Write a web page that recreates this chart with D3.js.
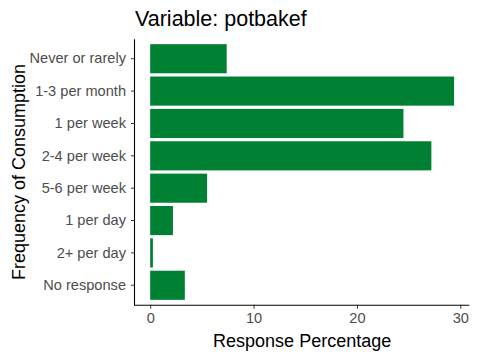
<!DOCTYPE html>
<html><head><meta charset="utf-8">
<script src="https://cdn.jsdelivr.net/npm/d3@7"></script>
<style>body{margin:0;background:#fff}svg{display:block}</style>
</head><body>
<svg id="c" width="480" height="360"></svg>
<script>
const categories = ["Never or rarely","1-3 per month","1 per week","2-4 per week","5-6 per week","1 per day","2+ per day","No response"];
const values = [7.4, 29.4, 24.5, 27.2, 5.5, 2.2, 0.26, 3.35];
const xTicks = [0, 10, 20, 30];
const titleText = "Variable: potbakef";
const xTitle = "Response Percentage";
const yTitle = "Frequency of Consumption";

(function(){
const svg = d3.select("#c");
const pLeft = 135, pRight = 469.3, pTop = 39.3, pBottom = 304.7;
const font = "'Liberation Sans', Arial, sans-serif";

const maxV = d3.max(values);
const ext = maxV * 0.05;
const x = d3.scaleLinear().domain([-ext, maxV + ext]).range([pLeft, pRight]);
const step = (pBottom - pTop) / (categories.length + 0.2);
const y = d3.scaleBand().domain(categories)
  .range([pTop + 0.1 * step, pTop + 0.1 * step + categories.length * step])
  .paddingInner(0.1).paddingOuter(0.05);

svg.append("g").selectAll("rect").data(categories).join("rect")
  .attr("x", x(0)).attr("y", d => y(d))
  .attr("width", (d,i) => x(values[i]) - x(0)).attr("height", y.bandwidth())
  .attr("fill", "#008033");

const xAxis = d3.axisBottom(x).tickValues(xTicks).tickSize(4).tickPadding(4);
const gx = svg.append("g").attr("transform", `translate(0,${pBottom})`).call(xAxis);
gx.select(".domain").attr("d", `M${pLeft-1},0.5H${pRight}`).attr("stroke", "#000").attr("stroke-width", 1.1);
gx.selectAll(".tick line").attr("stroke", "#333");
gx.selectAll(".tick text").attr("fill", "#4D4D4D").style("font-size", "14.6px").style("font-family", font);

const yAxis = d3.axisLeft(y).tickSize(4).tickPadding(5);
const gy = svg.append("g").attr("transform", `translate(${pLeft},0)`).call(yAxis);
gy.select(".domain").attr("d", `M-0.5,${pTop}V${pBottom+0.5}`).attr("stroke", "#000").attr("stroke-width", 1.1);
gy.selectAll(".tick line").attr("stroke", "#333");
gy.selectAll(".tick text").attr("fill", "#4D4D4D").style("font-size", "14.6px").style("font-family", font);

svg.append("text").attr("x", pLeft).attr("y", 26).text(titleText)
  .style("font-family", font).style("font-size", "21.5px").attr("fill", "#000");
svg.append("text").attr("x", (pLeft + pRight)/2).attr("y", 346.5).attr("text-anchor", "middle")
  .text(xTitle).style("font-family", font).style("font-size", "18px").attr("fill", "#000");
svg.append("text").attr("transform", `translate(25,${(pTop+pBottom)/2}) rotate(-90)`).attr("text-anchor", "middle")
  .text(yTitle).style("font-family", font).style("font-size", "18px").attr("fill", "#000");
})();
</script>
</body></html>
